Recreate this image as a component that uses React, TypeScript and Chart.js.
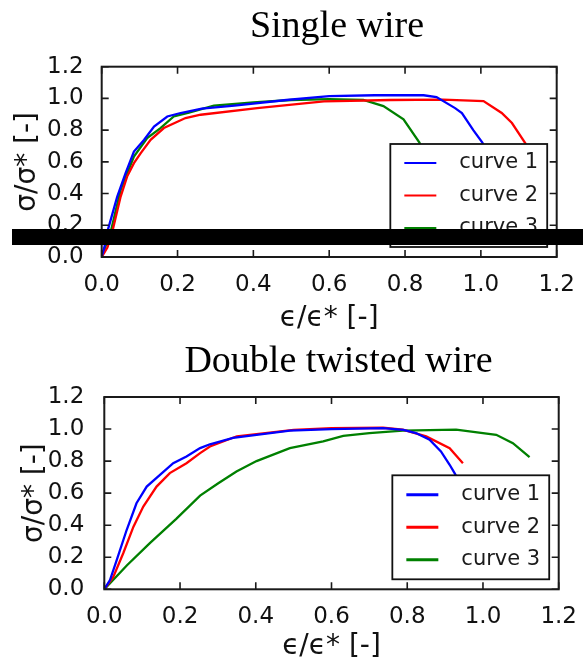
import React, { useEffect, useRef } from 'react';
import { Chart, registerables } from 'chart.js';

Chart.register(...registerables);

// ---------- shared axis data ----------
const tickValues = [0, 0.2, 0.4, 0.6, 0.8, 1.0, 1.2];
const tickLabels = ['0.0', '0.2', '0.4', '0.6', '0.8', '1.0', '1.2'];
const seriesLabels = ['curve 1', 'curve 2', 'curve 3'];
const seriesColors = ['#0000ff', '#ff0000', '#008000'];
const xAxisTitle = 'ϵ/ϵ* [-]';
const yAxisTitle = 'σ/σ* [-]';
const topTitle = 'Single wire';
const bottomTitle = 'Double twisted wire';

// ---------- Single wire ----------
const single1X = [0, 0.008, 0.015, 0.041, 0.063, 0.085, 0.112, 0.138, 0.173, 0.208, 0.264, 0.35, 0.487, 0.6, 0.72, 0.849, 0.883, 0.932, 0.95, 0.98, 1.004, 1.03];
const single1Y = [0, 0.07, 0.16, 0.381, 0.529, 0.665, 0.739, 0.823, 0.886, 0.908, 0.935, 0.955, 0.99, 1.015, 1.02, 1.02, 1.009, 0.939, 0.908, 0.8, 0.722, 0.6];
const single2X = [0, 0.015, 0.028, 0.05, 0.067, 0.085, 0.103, 0.129, 0.164, 0.221, 0.261, 0.41, 0.586, 0.762, 0.9, 1.007, 1.055, 1.082, 1.117, 1.14];
const single2Y = [0, 0.06, 0.16, 0.381, 0.507, 0.592, 0.655, 0.739, 0.813, 0.876, 0.897, 0.939, 0.981, 0.99, 0.992, 0.983, 0.908, 0.845, 0.718, 0.6];
const single3X = [0, 0.012, 0.024, 0.05, 0.085, 0.12, 0.155, 0.19, 0.23, 0.296, 0.4, 0.5, 0.6, 0.69, 0.743, 0.796, 0.838, 0.86];
const single3Y = [0, 0.08, 0.16, 0.423, 0.634, 0.75, 0.813, 0.886, 0.91, 0.955, 0.975, 0.99, 0.996, 0.99, 0.952, 0.868, 0.722, 0.6];

// ---------- Double twisted wire ----------
const double1X = [0, 0.015, 0.033, 0.059, 0.085, 0.112, 0.147, 0.182, 0.217, 0.253, 0.279, 0.34, 0.49, 0.6, 0.736, 0.79, 0.823, 0.859, 0.889, 0.912, 0.925, 0.94];
const double1Y = [0, 0.058, 0.183, 0.37, 0.537, 0.641, 0.714, 0.787, 0.829, 0.881, 0.905, 0.945, 0.99, 1.0, 1.006, 0.995, 0.975, 0.933, 0.86, 0.777, 0.725, 0.66];
const double2X = [0, 0.024, 0.05, 0.077, 0.103, 0.138, 0.173, 0.217, 0.253, 0.279, 0.35, 0.5, 0.6, 0.736, 0.788, 0.85, 0.912, 0.947];
const double2Y = [0, 0.079, 0.225, 0.391, 0.516, 0.641, 0.725, 0.787, 0.85, 0.891, 0.955, 0.995, 1.005, 1.008, 0.996, 0.954, 0.881, 0.787];
const double3X = [0, 0.06, 0.121, 0.19, 0.253, 0.3, 0.349, 0.402, 0.49, 0.578, 0.631, 0.7, 0.788, 0.929, 1.035, 1.079, 1.123];
const double3Y = [0, 0.15, 0.29, 0.44, 0.585, 0.66, 0.735, 0.8, 0.881, 0.923, 0.958, 0.975, 0.99, 0.996, 0.964, 0.912, 0.825];

const FONT = "'DejaVu Sans'";

// matplotlib-like frame, inward ticks and boxed legend
const mplPlugin = {
  id: 'mplAxes',
  afterDatasetsDraw(chart: any, _args: any, opts: any) {
    const { ctx, chartArea: a, scales } = chart;
    ctx.save();
    // legend box
    const lg = opts.legend;
    ctx.font = `${lg.fontSize}px ${FONT}`;
    const items = chart.data.datasets.map((d: any) => ({ label: d.label, color: d.borderColor }));
    const textW = Math.max(...items.map((i: any) => ctx.measureText(i.label).width));
    const w = lg.padLeft + lg.lineLen + lg.gap + textW + lg.padRight;
    const h = lg.padTop * 2 + lg.rowGap * (items.length - 1);
    const x0 = a.right - lg.offsetRight - w;
    const y0 = a.bottom - lg.offsetBottom - h;
    ctx.fillStyle = '#ffffff';
    ctx.fillRect(x0, y0, w, h);
    ctx.strokeStyle = '#111111';
    ctx.lineWidth = 1.8;
    ctx.strokeRect(x0, y0, w, h);
    items.forEach((it: any, i: number) => {
      const cy = y0 + lg.padTop + i * lg.rowGap;
      ctx.strokeStyle = it.color;
      ctx.lineWidth = lg.lineWidth;
      ctx.beginPath();
      ctx.moveTo(x0 + lg.padLeft, cy);
      ctx.lineTo(x0 + lg.padLeft + lg.lineLen, cy);
      ctx.stroke();
      ctx.fillStyle = '#1a1a1a';
      ctx.textBaseline = 'middle';
      ctx.textAlign = 'left';
      ctx.fillText(it.label, x0 + lg.padLeft + lg.lineLen + lg.gap, cy);
    });
    // frame
    ctx.strokeStyle = '#1a1a1a';
    ctx.lineWidth = 2;
    ctx.strokeRect(a.left, a.top, a.right - a.left, a.bottom - a.top);
    // inward ticks on all four sides
    const tl = 7;
    ctx.lineWidth = 1.6;
    ctx.beginPath();
    scales.x.ticks.forEach((t: any) => {
      const px = scales.x.getPixelForValue(t.value);
      ctx.moveTo(px, a.bottom);
      ctx.lineTo(px, a.bottom - tl);
      ctx.moveTo(px, a.top);
      ctx.lineTo(px, a.top + tl);
    });
    scales.y.ticks.forEach((t: any) => {
      const py = scales.y.getPixelForValue(t.value);
      ctx.moveTo(a.left, py);
      ctx.lineTo(a.left + tl, py);
      ctx.moveTo(a.right, py);
      ctx.lineTo(a.right - tl, py);
    });
    ctx.stroke();
    ctx.restore();
  },
};

interface Layout {
  padTop: number;
  padRight: number;
  yAxisWidth: number;
  xAxisHeight: number;
  yTickPad: number;
  xTickPad: number;
  yTitlePad: number;
  xTitlePad: number;
  legendLineWidth: number;
  legendPadTop: number;
}

function makeConfig(xs: number[][], ys: number[][], p: Layout): any {
  return {
    type: 'line',
    data: {
      datasets: seriesLabels.map((label, i) => ({
        label,
        data: xs[i].map((x, j) => ({ x, y: ys[i][j] })),
        borderColor: seriesColors[i],
        backgroundColor: seriesColors[i],
        borderWidth: 2.3,
        pointRadius: 0,
        tension: 0,
        fill: false,
      })),
    },
    options: {
      responsive: false,
      animation: false,
      devicePixelRatio: 1,
      layout: { padding: { top: p.padTop, left: 0, right: p.padRight, bottom: 0 } },
      plugins: {
        legend: { display: false },
        tooltip: { enabled: false },
        title: { display: false },
        mplAxes: {
          legend: {
            fontSize: 21,
            padLeft: 14,
            lineLen: 32,
            gap: 23,
            padRight: 9,
            padTop: p.legendPadTop,
            rowGap: 32.5,
            offsetRight: 9.5,
            offsetBottom: 10,
            lineWidth: p.legendLineWidth,
          },
        },
      },
      scales: {
        x: {
          type: 'linear',
          position: 'bottom',
          min: 0,
          max: 1.2,
          grid: { display: false },
          border: { display: false },
          afterBuildTicks: (s: any) => {
            s.ticks = tickValues.map((v) => ({ value: v }));
          },
          afterFit: (s: any) => {
            s.height = p.xAxisHeight;
          },
          ticks: {
            padding: p.xTickPad,
            autoSkip: false,
            maxRotation: 0,
            font: { family: FONT, size: 23 },
            color: '#111111',
            callback: (_v: any, i: number) => tickLabels[i],
          },
          title: {
            display: true,
            text: xAxisTitle,
            font: { family: FONT, size: 28 },
            color: '#111111',
            padding: { top: 0, bottom: p.xTitlePad },
          },
        },
        y: {
          type: 'linear',
          position: 'left',
          min: 0,
          max: 1.2,
          grid: { display: false },
          border: { display: false },
          afterBuildTicks: (s: any) => {
            s.ticks = tickValues.map((v) => ({ value: v }));
          },
          afterFit: (s: any) => {
            s.width = p.yAxisWidth;
          },
          ticks: {
            padding: p.yTickPad,
            autoSkip: false,
            font: { family: FONT, size: 23 },
            color: '#111111',
            callback: (_v: any, i: number) => tickLabels[i],
          },
          title: {
            display: true,
            text: yAxisTitle,
            font: { family: FONT, size: 28 },
            color: '#111111',
            padding: { top: p.yTitlePad, bottom: 0 },
          },
        },
      },
    },
    plugins: [mplPlugin],
  };
}

function ChartCanvas(props: { xs: number[][]; ys: number[][]; layout: Layout; top: number; height: number }) {
  const ref = useRef<HTMLCanvasElement | null>(null);
  useEffect(() => {
    if (!ref.current) return;
    const chart = new Chart(ref.current, makeConfig(props.xs, props.ys, props.layout));
    return () => chart.destroy();
  }, []);
  return (
    <canvas
      ref={ref}
      width={583}
      height={props.height}
      style={{ position: 'absolute', left: 0, top: props.top, width: 583, height: props.height }}
    />
  );
}

const topLayout: Layout = {
  padTop: 66.7,
  padRight: 26.3,
  yAxisWidth: 101.7,
  xAxisHeight: 83,
  yTickPad: 10,
  xTickPad: 6.5,
  yTitlePad: 11.2,
  xTitlePad: 4.2,
  legendLineWidth: 2,
  legendPadTop: 19,
};

const bottomLayout: Layout = {
  padTop: 57,
  padRight: 24,
  yAxisWidth: 104.3,
  xAxisHeight: 74.7,
  yTickPad: 12,
  xTickPad: 6,
  yTitlePad: 18.2,
  xTitlePad: 0,
  legendLineWidth: 3,
  legendPadTop: 19.5,
};

const titleStyle: React.CSSProperties = {
  position: 'absolute',
  left: 0,
  width: 674,
  textAlign: 'center',
  fontFamily: "'Liberation Serif', 'Times New Roman', serif",
  fontSize: 38,
  lineHeight: '38px',
  color: '#000',
  whiteSpace: 'nowrap',
};

export default function App() {
  return (
    <div style={{ position: 'absolute', left: 0, top: 0, width: 583, height: 664, background: '#fff', overflow: 'hidden' }}>
      <ChartCanvas
        xs={[single1X, single2X, single3X]}
        ys={[single1Y, single2Y, single3Y]}
        layout={topLayout}
        top={0}
        height={340}
      />
      <ChartCanvas
        xs={[double1X, double2X, double3X]}
        ys={[double1Y, double2Y, double3Y]}
        layout={bottomLayout}
        top={340}
        height={324}
      />
      <div style={{ ...titleStyle, top: 5 }}>{topTitle}</div>
      <div style={{ ...titleStyle, top: 340, width: 677 }}>{bottomTitle}</div>
      <div style={{ position: 'absolute', left: 12, top: 229, width: 571, height: 16, background: '#000' }} />
    </div>
  );
}
